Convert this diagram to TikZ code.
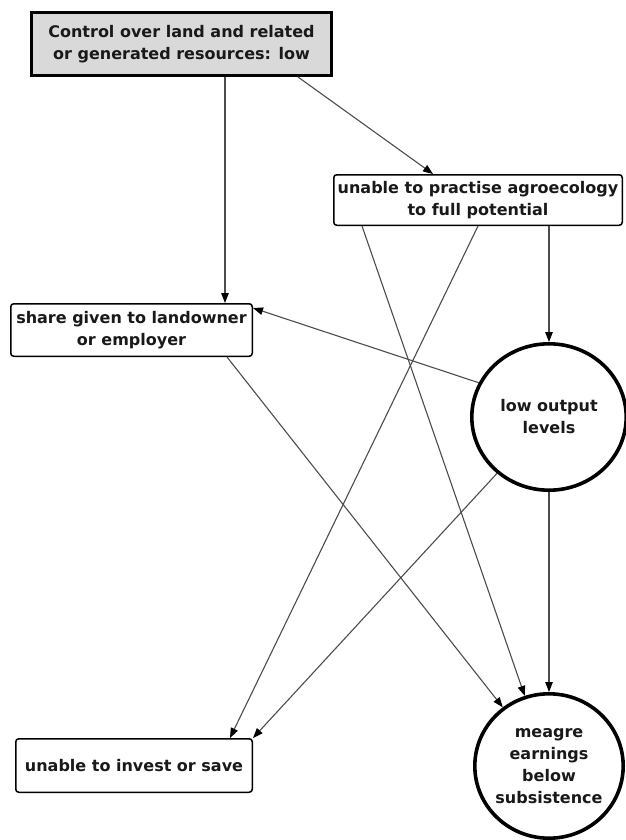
\documentclass[tikz,border=0pt]{standalone}
\usepackage{fontspec}
\setmainfont{DejaVu Sans}
\usetikzlibrary{shapes.geometric,arrows.meta}
\begin{document}
\begin{tikzpicture}[x=1pt,y=-1pt,
  lbl/.style={font=\bfseries\fontsize{16}{22}\selectfont, align=center, text=black!90},
  topbox/.style={lbl, draw=black, line width=2.6pt, fill=black!15, inner sep=0pt},
  rbox/.style={lbl, draw=black, line width=1.5pt, rounded corners=3pt, fill=white, inner sep=0pt},
  oval/.style={lbl, ellipse, draw=black, line width=3.6pt, fill=white, inner sep=-20pt},
  arr/.style={draw=black!70, line width=1.1pt, -{Triangle[length=10pt,width=7.5pt,color=black]}}
]
\useasboundingbox (0,0) rectangle (625,840);
\node[topbox, minimum width=300.4pt, minimum height=63.4pt] (top) at (181.5,44)
  {Control over land and related\\or generated resources: low};
\node[rbox, minimum width=288.5pt, minimum height=50.5pt] (agro) at (478,200)
  {unable to practise agroecology\\to full potential};
\node[rbox, minimum width=241.5pt, minimum height=52.5pt] (share) at (131.5,330)
  {share given to landowner\\or employer};
\node[rbox, minimum width=236.5pt, minimum height=53.5pt] (invest) at (134,765.5)
  {unable to invest or save};
\node[oval, minimum width=154.4pt, minimum height=146.4pt] (low) at (549,417)
  {low output\\levels};
\node[oval, minimum width=148.4pt, minimum height=144.4pt] (meagre) at (549,766)
  {meagre\\earnings\\below\\subsistence};

\draw[arr] ([xshift=43.5pt]top.south) -- ([xshift=93.5pt]share.north);
\draw[arr] ([xshift=116.5pt]top.south) -- ([xshift=-45pt]agro.north);
\draw[arr] ([xshift=71pt]agro.south) -- (low.north);
\draw[arr] ([xshift=-116pt]agro.south) -- (meagre);
\draw[arr] (agro.south) -- ([xshift=96pt]invest.north);
\draw[arr] (low.154) -- ([yshift=-5pt]share.north east);
\draw[arr] (low) -- (invest.north east);
\draw[arr] (low.south) -- (meagre.north);
\draw[arr] ([xshift=95.5pt]share.south) -- (meagre);
\end{tikzpicture}
\end{document}
